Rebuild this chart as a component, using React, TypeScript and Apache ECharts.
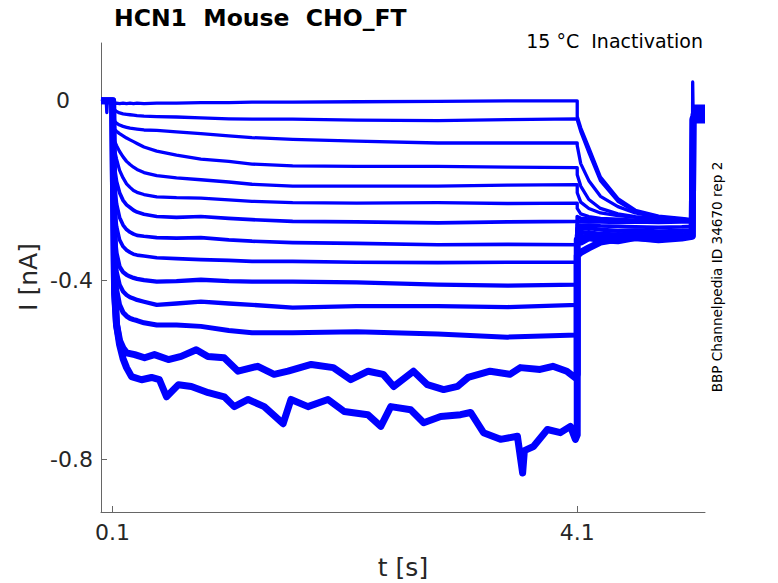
import React, { useEffect, useRef } from "react";
import * as echarts from "echarts";

// ---- Data ----
// time axis limits & ticks (s)
const xTicks = [0.1, 4.1];
const yTicks = [-0.8, -0.4, 0];

// pre-pulse baseline (t < 0.1 s)
const preT = [0, 0.03, 0.045, 0.05, 0.055, 0.08];
const preFirst = [0.004, 0.002, 0, -0.026, 0, 0.003];
const preOther = [0, 0, 0, 0, 0, 0];

// pulse: common time grid for traces 1-12 (s)
const pulseT = [0.1, 0.117, 0.134, 0.16, 0.19, 0.22, 0.25, 0.28, 0.31, 0.37, 0.48, 0.65, 0.86, 1.1, 1.3, 1.65, 2.2, 2.9, 3.5, 4.1];
const pulse1 = [0, -0.006, -0.005, -0.006, -0.005, -0.006, -0.005, -0.006, -0.005, -0.006, -0.005, -0.005, -0.004, -0.004, -0.003, -0.003, -0.002, -0.001, 0.0, 0.0];
const pulse2 = [0, -0.02, -0.024, -0.027, -0.029, -0.03, -0.031, -0.032, -0.033, -0.034, -0.035, -0.036, -0.038, -0.04, -0.041, -0.041, -0.043, -0.044, -0.042, -0.04];
const pulse3 = [0, -0.045, -0.05, -0.054, -0.057, -0.059, -0.061, -0.062, -0.063, -0.065, -0.066, -0.069, -0.073, -0.078, -0.082, -0.086, -0.09, -0.094, -0.094, -0.094];
const pulse4 = [0, -0.064, -0.068, -0.073, -0.078, -0.083, -0.087, -0.091, -0.095, -0.103, -0.112, -0.121, -0.13, -0.135, -0.141, -0.145, -0.146, -0.146, -0.148, -0.149];
const pulse5 = [0, -0.09, -0.1, -0.113, -0.125, -0.135, -0.142, -0.148, -0.153, -0.16, -0.167, -0.172, -0.176, -0.181, -0.186, -0.19, -0.19, -0.19, -0.188, -0.187];
const pulse6 = [0, -0.11, -0.13, -0.155, -0.172, -0.185, -0.193, -0.2, -0.204, -0.209, -0.214, -0.216, -0.217, -0.221, -0.224, -0.227, -0.228, -0.227, -0.229, -0.228];
const pulse7 = [0, -0.15, -0.18, -0.205, -0.222, -0.232, -0.238, -0.244, -0.248, -0.253, -0.258, -0.26, -0.258, -0.262, -0.265, -0.269, -0.27, -0.272, -0.27, -0.269];
const pulse8 = [0, -0.19, -0.23, -0.26, -0.277, -0.287, -0.293, -0.297, -0.3, -0.302, -0.305, -0.306, -0.305, -0.31, -0.313, -0.316, -0.318, -0.321, -0.32, -0.321];
const pulse9 = [0, -0.24, -0.28, -0.31, -0.325, -0.333, -0.338, -0.342, -0.344, -0.346, -0.35, -0.352, -0.354, -0.356, -0.358, -0.358, -0.36, -0.361, -0.36, -0.36];
const pulse10 = [0, -0.3, -0.34, -0.37, -0.382, -0.388, -0.392, -0.395, -0.397, -0.4, -0.403, -0.402, -0.399, -0.402, -0.403, -0.403, -0.405, -0.41, -0.412, -0.41];
const pulse11 = [0, -0.34, -0.38, -0.41, -0.425, -0.433, -0.438, -0.441, -0.444, -0.448, -0.455, -0.452, -0.448, -0.452, -0.455, -0.461, -0.458, -0.458, -0.46, -0.455];
const pulse12 = [0, -0.37, -0.42, -0.455, -0.472, -0.48, -0.485, -0.488, -0.49, -0.495, -0.5, -0.5, -0.503, -0.512, -0.517, -0.517, -0.515, -0.52, -0.527, -0.522];

// pulse: the two deepest, noisiest traces, with their own time points
const pulseT13 = [0.1, 0.117, 0.134, 0.16, 0.19, 0.22, 0.29, 0.375, 0.46, 0.58, 0.69, 0.82, 0.92, 1.06, 1.18, 1.35, 1.49, 1.61, 1.81, 2.0, 2.15, 2.3, 2.43, 2.52, 2.69, 2.81, 2.95, 3.07, 3.16, 3.35, 3.52, 3.61, 3.78, 3.89, 4.01, 4.08, 4.1];
const pulse13 = [0, -0.42, -0.5, -0.535, -0.552, -0.562, -0.566, -0.573, -0.566, -0.577, -0.57, -0.555, -0.57, -0.573, -0.603, -0.592, -0.61, -0.603, -0.588, -0.595, -0.622, -0.603, -0.61, -0.637, -0.603, -0.633, -0.644, -0.637, -0.617, -0.603, -0.61, -0.595, -0.599, -0.592, -0.603, -0.617, -0.61];
const pulseT14 = [0.1, 0.117, 0.134, 0.16, 0.19, 0.22, 0.263, 0.349, 0.435, 0.503, 0.564, 0.667, 0.778, 0.924, 1.061, 1.147, 1.267, 1.405, 1.568, 1.636, 1.782, 1.954, 2.094, 2.297, 2.409, 2.495, 2.666, 2.778, 2.924, 3.096, 3.182, 3.293, 3.439, 3.585, 3.63, 3.645, 3.723, 3.843, 3.955, 4.041, 4.084, 4.1];
const pulse14 = [0, -0.43, -0.5, -0.544, -0.575, -0.595, -0.615, -0.622, -0.617, -0.622, -0.66, -0.633, -0.637, -0.651, -0.66, -0.682, -0.666, -0.682, -0.72, -0.666, -0.682, -0.666, -0.693, -0.7, -0.726, -0.682, -0.689, -0.718, -0.704, -0.7, -0.695, -0.74, -0.755, -0.748, -0.83, -0.78, -0.771, -0.733, -0.74, -0.726, -0.755, -0.745];

// tail after the pulse (s)
const tailT = [4.1, 4.13, 4.2, 4.3, 4.45, 4.6, 4.8, 5.0, 5.09];
const tail1 = [-0.035, -0.06, -0.105, -0.17, -0.218, -0.244, -0.257, -0.262, -0.265];
const tail2 = [-0.042, -0.068, -0.115, -0.178, -0.224, -0.247, -0.259, -0.264, -0.266];
const tail3 = [-0.1, -0.14, -0.178, -0.213, -0.236, -0.25, -0.26, -0.264, -0.266];
const tail4 = [-0.165, -0.19, -0.22, -0.24, -0.252, -0.258, -0.262, -0.265, -0.267];
const tail5 = [-0.205, -0.226, -0.24, -0.25, -0.256, -0.26, -0.263, -0.265, -0.266];
const tail6 = [-0.24, -0.252, -0.258, -0.262, -0.264, -0.266, -0.267, -0.268, -0.268];
const tail7 = [-0.258, -0.262, -0.264, -0.266, -0.266, -0.267, -0.268, -0.268, -0.269];
const tail8 = [-0.268, -0.27, -0.27, -0.27, -0.271, -0.27, -0.271, -0.27, -0.27];
const tail9 = [-0.276, -0.278, -0.277, -0.279, -0.28, -0.281, -0.282, -0.281, -0.28];
const tail10 = [-0.285, -0.286, -0.284, -0.287, -0.29, -0.289, -0.291, -0.29, -0.289];
const tail11 = [-0.292, -0.295, -0.293, -0.297, -0.298, -0.296, -0.299, -0.298, -0.296];
const tail12 = [-0.3, -0.305, -0.3, -0.304, -0.306, -0.302, -0.307, -0.305, -0.3];
const tail13 = [-0.31, -0.315, -0.305, -0.31, -0.312, -0.305, -0.31, -0.306, -0.302];
const tail14 = [-0.345, -0.338, -0.328, -0.315, -0.308, -0.305, -0.308, -0.303, -0.3];

// return step at the end of the protocol
const spikeT = 5.094;
const spikeV = 0.042;
const returnT = [5.097, 5.2];
const returnLevels = [-0.012, -0.015, -0.02, -0.018, -0.025, -0.022, -0.028, -0.03, -0.026, -0.033, -0.035, -0.03, -0.04, -0.043];

const pulseTimes = [pulseT, pulseT, pulseT, pulseT, pulseT, pulseT, pulseT, pulseT, pulseT, pulseT, pulseT, pulseT, pulseT13, pulseT14];
const pulseValues = [pulse1, pulse2, pulse3, pulse4, pulse5, pulse6, pulse7, pulse8, pulse9, pulse10, pulse11, pulse12, pulse13, pulse14];
const tailValues = [tail1, tail2, tail3, tail4, tail5, tail6, tail7, tail8, tail9, tail10, tail11, tail12, tail13, tail14];

const FONT = "DejaVu Sans";
const INK = "#262626";
const AXIS = "#666666";

function buildTrace(i: number): number[][] {
  const pts: number[][] = [];
  const pre = i === 0 ? preFirst : preOther;
  preT.forEach((t, k) => pts.push([t, pre[k]]));
  pulseTimes[i].forEach((t, k) => pts.push([t, pulseValues[i][k]]));
  tailT.forEach((t, k) => pts.push([t, tailValues[i][k]]));
  if (i === 0) pts.push([spikeT, spikeV]);
  returnT.forEach((t) => pts.push([t, returnLevels[i]]));
  return pts;
}

function traceWidth(i: number): number {
  if (i >= 12) return 7;
  if (i === 11) return 5;
  if (i >= 9) return 4.3;
  if (i >= 6) return 3.7;
  return 3.3;
}

export default function App() {
  const ref = useRef<HTMLDivElement>(null);
  useEffect(() => {
    if (!ref.current) return;
    const chart = echarts.init(ref.current, undefined, { renderer: "svg" });
    const series = pulseValues.map((_, i) => ({
      type: "line",
      data: buildTrace(i),
      symbol: "none",
      showSymbol: false,
      silent: true,
      clip: true,
      lineStyle: {
        color: "#0000ff",
        width: traceWidth(i),
        join: "round",
        cap: "butt",
      },
    }));
    chart.setOption({
      animation: false,
      backgroundColor: "#ffffff",
      grid: { left: 101, top: 43, width: 604, height: 469, containLabel: false },
      xAxis: {
        type: "value",
        min: 0,
        max: 5.2,
        axisLine: { show: true, onZero: false, lineStyle: { color: AXIS, width: 1 } },
        axisTick: { show: true, inside: true, length: 6, customValues: xTicks, lineStyle: { color: AXIS } },
        axisLabel: {
          customValues: xTicks,
          margin: 9,
          color: INK,
          fontSize: 22,
          fontFamily: FONT,
          formatter: (v: number) => String(v),
        },
        splitLine: { show: false },
      },
      yAxis: {
        type: "value",
        min: -0.917,
        max: 0.129,
        axisLine: { show: true, onZero: false, lineStyle: { color: AXIS, width: 1 } },
        axisTick: { show: true, inside: true, length: 6, customValues: yTicks, lineStyle: { color: AXIS } },
        axisLabel: {
          customValues: yTicks,
          margin: 8,
          color: INK,
          fontSize: 22,
          fontFamily: FONT,
          formatter: (v: number) => (v === 0 ? "{z|0}" : "{n|" + String(v) + "}"),
          rich: {
            z: { fontSize: 22, fontFamily: FONT, color: INK, padding: [0, 23, 0, 0] },
            n: { fontSize: 22, fontFamily: FONT, color: INK },
          },
        },
        splitLine: { show: false },
      },
      graphic: [
        {
          type: "text",
          x: 114,
          y: 18,
          style: {
            text: "HCN1  Mouse  CHO_FT",
            fontSize: 23.5,
            fontWeight: "bold",
            fontFamily: FONT,
            fill: "#000000",
            align: "left",
            verticalAlign: "middle",
            textAlign: "left",
            textVerticalAlign: "middle",
          },
        },
        {
          type: "text",
          x: 703,
          y: 41,
          style: {
            text: "15 \u00b0C  Inactivation",
            fontSize: 19,
            fontFamily: FONT,
            fill: "#000000",
            align: "right",
            verticalAlign: "middle",
            textAlign: "right",
            textVerticalAlign: "middle",
          },
        },
        {
          type: "text",
          x: 717,
          y: 277,
          rotation: Math.PI / 2,
          style: {
            text: "BBP Channelpedia ID 34670 rep 2",
            fontSize: 13.6,
            fontFamily: FONT,
            fill: "#000000",
            align: "center",
            verticalAlign: "middle",
            textAlign: "center",
            textVerticalAlign: "middle",
          },
        },
        {
          type: "text",
          x: 403,
          y: 567,
          style: {
            text: "t [s]",
            fontSize: 25,
            fontFamily: FONT,
            fill: INK,
            align: "center",
            verticalAlign: "middle",
            textAlign: "center",
            textVerticalAlign: "middle",
          },
        },
        {
          type: "text",
          x: 28,
          y: 277,
          rotation: Math.PI / 2,
          style: {
            text: "I [nA]",
            fontSize: 25,
            fontFamily: FONT,
            fill: INK,
            align: "center",
            verticalAlign: "middle",
            textAlign: "center",
            textVerticalAlign: "middle",
          },
        },
      ],
      series,
    });
    return () => chart.dispose();
  }, []);
  return (
    <div
      ref={ref}
      style={{ position: "absolute", left: 0, top: 0, width: 778, height: 583, background: "#fff" }}
    />
  );
}
